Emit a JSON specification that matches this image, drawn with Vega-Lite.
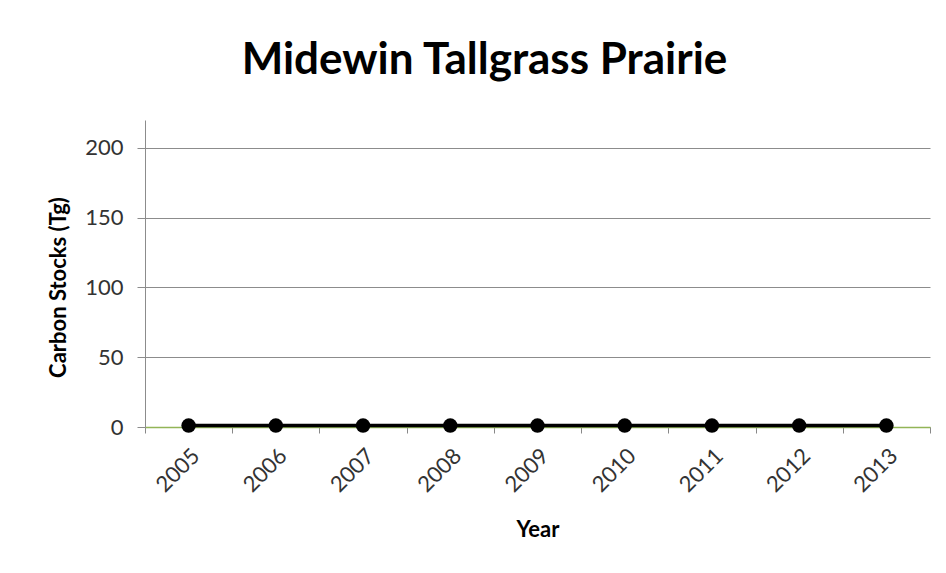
{
  "$schema": "https://vega.github.io/schema/vega-lite/v6.json",
  "width": 785,
  "height": 307,
  "autosize": {"type": "none"},
  "padding": {"left": 145, "top": 120, "right": 16, "bottom": 146},
  "background": "white",
  "title": {
    "text": "Midewin Tallgrass Prairie",
    "font": "Lato",
    "fontSize": 44,
    "fontWeight": "bold",
    "color": "#000000",
    "anchor": "middle",
    "dx": -53,
    "offset": 37
  },
  "config": {
    "view": {"stroke": null},
    "axis": {
      "labelFont": "Lato",
      "titleFont": "Lato",
      "labelFontSize": 22,
      "labelColor": "#333333",
      "titleFontSize": 22,
      "titleFontWeight": "bold",
      "titleColor": "#000000"
    }
  },
  "data": {
    "values": [
      {"Year": "2005", "Carbon": 1},
      {"Year": "2006", "Carbon": 1},
      {"Year": "2007", "Carbon": 1},
      {"Year": "2008", "Carbon": 1},
      {"Year": "2009", "Carbon": 1},
      {"Year": "2010", "Carbon": 1},
      {"Year": "2011", "Carbon": 1},
      {"Year": "2012", "Carbon": 1},
      {"Year": "2013", "Carbon": 1}
    ]
  },
  "encoding": {
    "x": {
      "field": "Year",
      "type": "ordinal",
      "bandPosition": 0.5,
      "scale": {"type": "band", "paddingInner": 0, "paddingOuter": 0},
      "axis": {
        "title": "Year",
        "labelAngle": -45,
        "labelAlign": "right",
        "labelBaseline": "top",
        "labelPadding": 12,
        "labelDx": -4,
        "tickBand": "extent",
        "tickColor": "#888888",
        "tickSize": 6,
        "domainColor": "#92B557",
        "domainWidth": 1.5,
        "titlePadding": 24,
        "grid": false
      }
    },
    "y": {
      "field": "Carbon",
      "type": "quantitative",
      "scale": {"domain": [0, 220], "nice": false},
      "axis": {
        "title": "Carbon Stocks (Tg)",
        "values": [0, 50, 100, 150, 200],
        "grid": true,
        "gridColor": "#8c8c8c",
        "domainColor": "#8c8c8c",
        "tickColor": "#8c8c8c",
        "tickSize": 8,
        "labelPadding": 14,
        "titlePadding": 14,
        "titleY": 167
      }
    }
  },
  "layer": [
    {"mark": {"type": "line", "color": "#000000", "strokeWidth": 3.5}},
    {"mark": {"type": "point", "filled": true, "color": "#000000", "opacity": 1, "size": 210}}
  ]
}
